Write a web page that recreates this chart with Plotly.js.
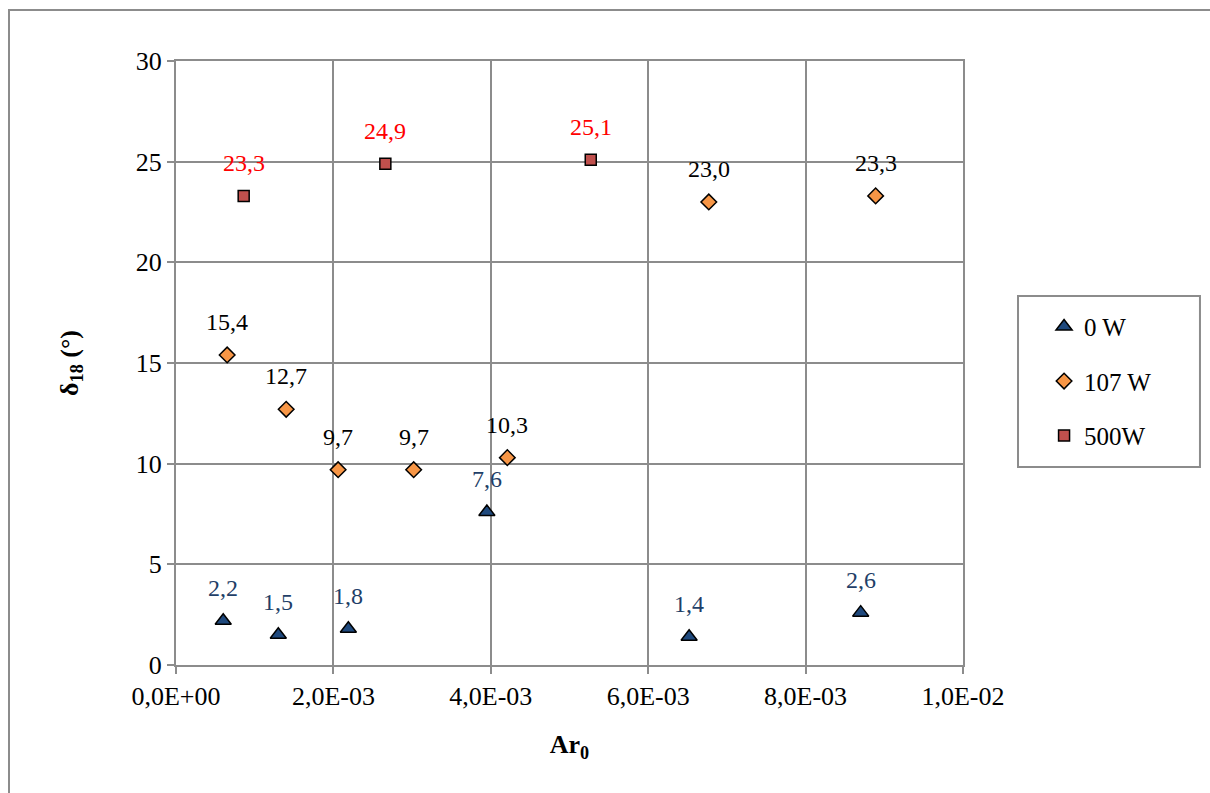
<!DOCTYPE html>
<html>
<head>
<meta charset="utf-8">
<script src="https://cdn.plot.ly/plotly-3.0.1.min.js"></script>
<style>
  html, body { margin:0; padding:0; width:1210px; height:793px; overflow:hidden; background:#fff; }
  #frame { position:absolute; left:8px; top:9px; width:1400px; height:1000px; border:2px solid #8c8c8c; box-sizing:border-box; pointer-events:none; z-index:5; }
  #chart { position:absolute; left:0; top:0; width:1210px; height:793px; }
</style>
</head>
<body>
<div id="chart"></div>
<div id="frame"></div>
<script>
// Data
const seriesNames = ["0 W", "107 W", "500W"];
const x0W = [0.00060, 0.00130, 0.00219, 0.00395, 0.00652, 0.00870];
const y0W = [2.2, 1.5, 1.8, 7.6, 1.4, 2.6];
const x107W = [0.00065, 0.00140, 0.00206, 0.00302, 0.00421, 0.00677, 0.00889];
const y107W = [15.4, 12.7, 9.7, 9.7, 10.3, 23.0, 23.3];
const x500W = [0.00086, 0.00266, 0.00527];
const y500W = [23.3, 24.9, 25.1];
const xTickVals = [0, 0.002, 0.004, 0.006, 0.008, 0.010];
const xTickText = ["0,0E+00", "2,0E-03", "4,0E-03", "6,0E-03", "8,0E-03", "1,0E-02"];
const yTickVals = [0, 5, 10, 15, 20, 25, 30];

const FONT = "Liberation Serif, Times New Roman, serif";
const fmt = v => v.toFixed(1).replace('.', ',');

const traces = [
  { x: x0W, y: y0W, name: seriesNames[0], mode: "markers", type: "scatter", legendgroup: "a",
    marker: { symbol: "triangle-up", size: 14, color: "#1F497D", line: { color: "#000", width: 1.5 } } },
  { x: x107W, y: y107W, name: seriesNames[1], mode: "markers", type: "scatter", legendgroup: "b",
    marker: { symbol: "diamond", size: 12, color: "#F79646", line: { color: "#000", width: 1.5 } } },
  { x: x500W, y: y500W, name: seriesNames[2], mode: "markers", type: "scatter", legendgroup: "c",
    marker: { symbol: "square", size: 11, color: "#C0504D", line: { color: "#000", width: 1.5 } } }
];

const annotations = [];
function addLabels(xs, ys, color) {
  xs.forEach((x, i) => annotations.push({
    x: x, y: ys[i], xref: "x", yref: "y", text: fmt(ys[i]), showarrow: false,
    yshift: 33, font: { family: FONT, size: 24, color: color }
  }));
}
addLabels(x0W, y0W, "#1F3F68");
addLabels(x107W, y107W, "#000000");
addLabels(x500W, y500W, "#FF0000");

const layout = {
  width: 1210, height: 793,
  margin: { l: 176, r: 247, t: 61, b: 128, pad: 0 },
  paper_bgcolor: "#fff", plot_bgcolor: "#fff",
  font: { family: FONT, size: 24, color: "#000" },
  showlegend: true,
  legend: {
    x: 1.103, y: 0.598, xanchor: "left", yanchor: "top",
    borderwidth: 0, bgcolor: "rgba(0,0,0,0)",
    font: { family: FONT, size: 25, color: "#000" },
    tracegroupgap: 19, itemwidth: 30
  },
  shapes: [{
    type: "rect", xref: "paper", yref: "paper",
    x0: 1.0699, x1: 1.3011, y0: 0.3278, y1: 0.6109,
    line: { color: "#8c8c8c", width: 2 }, fillcolor: "rgba(0,0,0,0)", layer: "below"
  }],
  xaxis: {
    range: [0, 0.010], tickvals: xTickVals, ticktext: xTickText,
    showgrid: true, gridcolor: "#8c8c8c", gridwidth: 2,
    zeroline: false, showline: true, linecolor: "#8c8c8c", linewidth: 2, mirror: true,
    ticks: "outside", ticklen: 7, tickwidth: 2, tickcolor: "#8c8c8c",
    tickfont: { family: FONT, size: 26 },
    title: { text: "<b>Ar<sub>0</sub></b>", font: { family: FONT, size: 26 }, standoff: 25 }
  },
  yaxis: {
    range: [0, 30], tickvals: yTickVals,
    showgrid: true, gridcolor: "#8c8c8c", gridwidth: 2,
    zeroline: false, showline: true, linecolor: "#8c8c8c", linewidth: 2, mirror: true,
    ticks: "outside", ticklen: 7, tickwidth: 2, tickcolor: "#8c8c8c",
    tickfont: { family: FONT, size: 26 },
    title: { text: "<b>δ<sub>18</sub> (°)</b>", font: { family: FONT, size: 26 }, standoff: 50 }
  },
  annotations: annotations
};

Plotly.newPlot("chart", traces, layout, { displayModeBar: false, staticPlot: true });
</script>
</body>
</html>
